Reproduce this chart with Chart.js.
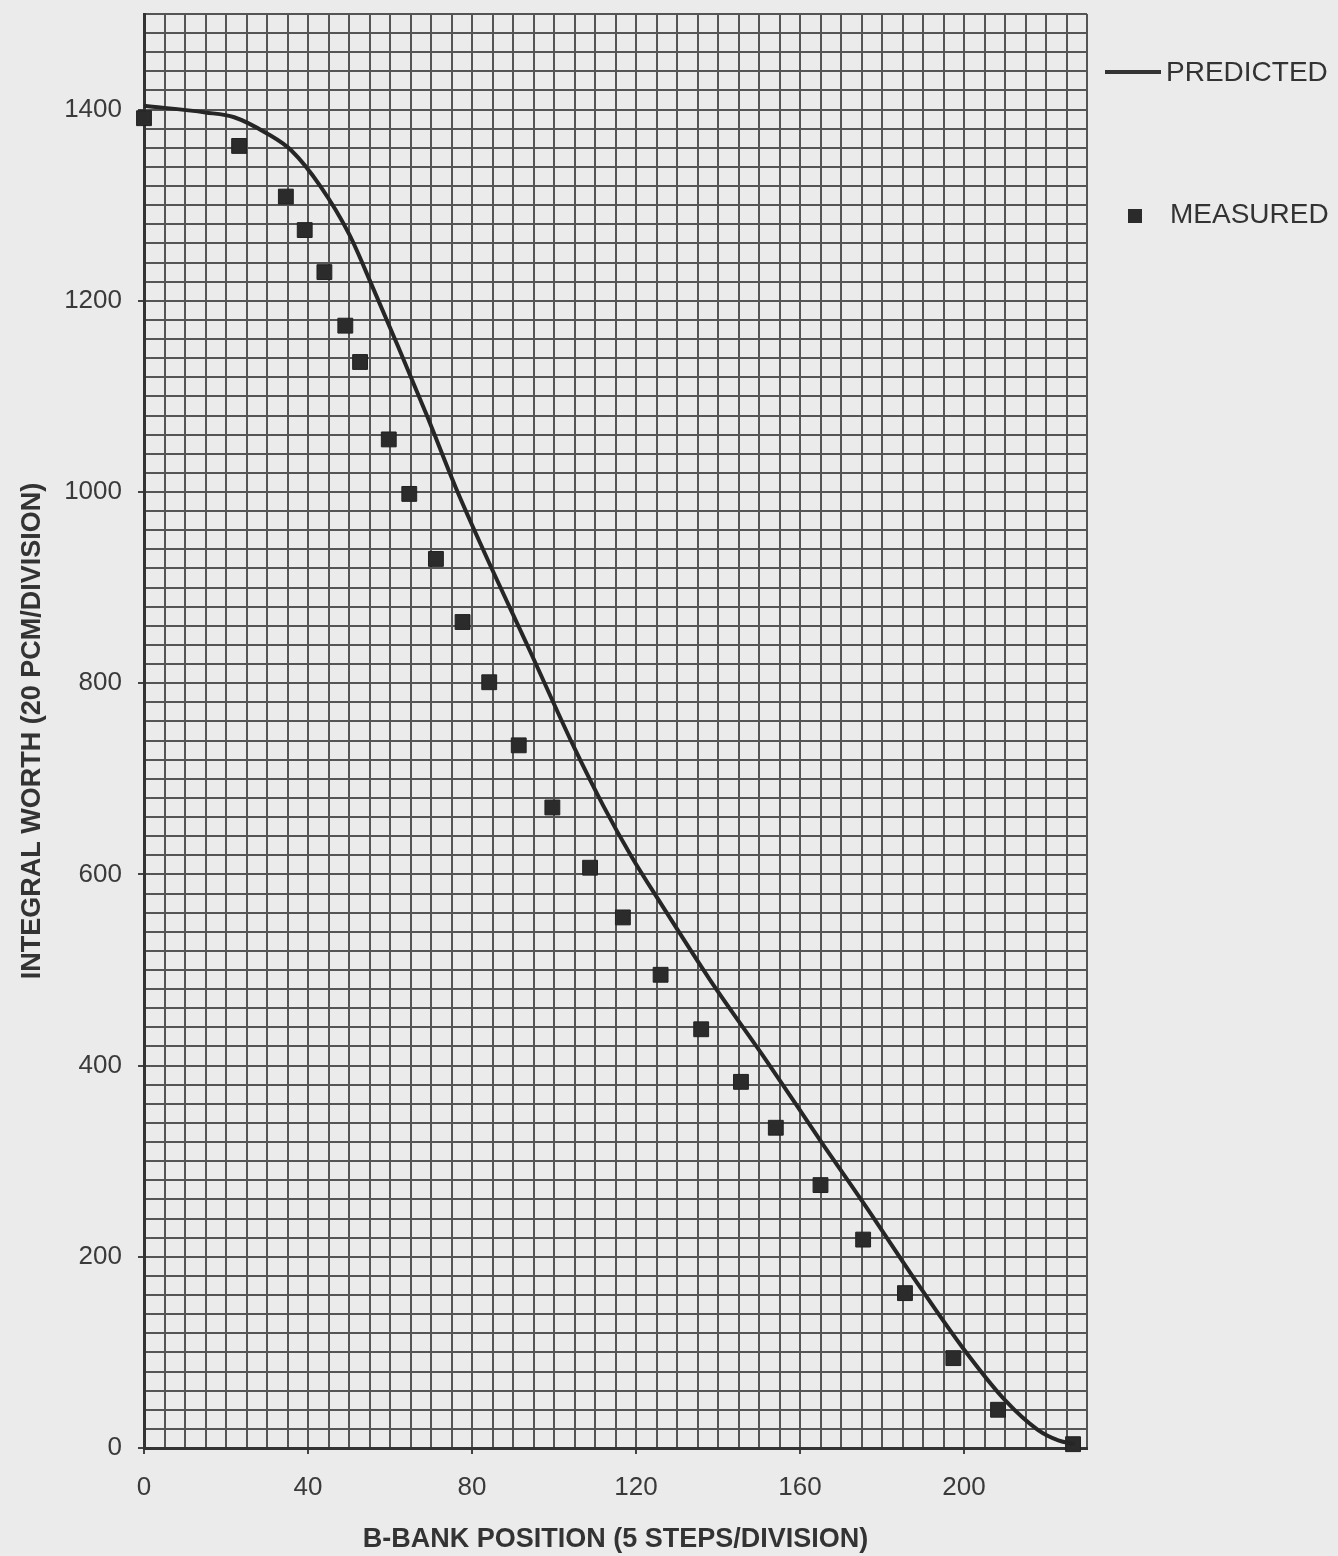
<!DOCTYPE html>
<html>
<head>
<meta charset="utf-8">
<title>Integral Worth vs B-Bank Position</title>
<script src="https://cdn.jsdelivr.net/npm/chart.js@4.4.1/dist/chart.umd.min.js"></script>
<style>
    body { margin: 0; background: #ebebeb; font-family: 'Liberation Sans', Arial, sans-serif; }
    #wrap { position: relative; width: 1338px; height: 1556px; }
    canvas { position: absolute; left: 0; top: 0; }
    .legend-line { position: absolute; left: 1105px; top: 70px; width: 56px; height: 4px; background: #333; }
    .legend-box { position: absolute; left: 1128px; top: 209px; width: 14px; height: 14px; background: #2b2b2b; }
    .legend-text { position: absolute; font-size: 28px; color: #333; line-height: 32px; }
</style>
</head>
<body>
<div id="wrap">
    <canvas id="chart" width="1338" height="1556"></canvas>
    <div class="legend-line"></div>
    <div class="legend-text" style="left:1166px; top:56px;">PREDICTED</div>
    <div class="legend-box"></div>
    <div class="legend-text" style="left:1170px; top:198px;">MEASURED</div>
</div>
<script>
    // B-bank position (steps) and integral worth (pcm)
    const predictedX = [0, 15, 22, 30, 36, 43, 50, 56, 62, 69, 76, 83, 94, 105, 112, 119, 126, 138, 152, 166, 176, 189, 200, 210, 218, 223, 227];
    const predictedY = [1404, 1397, 1392, 1375, 1357, 1320, 1270, 1212, 1152, 1080, 1005, 937, 835, 732, 672, 618, 570, 490, 404, 315, 253, 170, 103, 50, 19, 8, 4];

    const measuredX = [0, 23.2, 34.6, 39.2, 44, 49.1, 52.7, 59.7, 64.7, 71.2, 77.7, 84.2, 91.4, 99.6, 108.8, 116.8, 126, 135.9, 145.6, 154.1, 165, 175.4, 185.6, 197.4, 208.3, 226.6];
    const measuredY = [1391, 1362, 1309, 1274, 1230, 1174, 1136, 1055, 998, 930, 864, 801, 735, 670, 607, 555, 495, 438, 383, 335, 275, 218, 162, 94, 40, 4];

    const xMin = 0, xMax = 230, xStep = 5, xLabelStep = 40;
    const yMin = 0, yMax = 1500, yStep = 20, yLabelStep = 200;

    const gridColor = '#555';
    const textColor = '#3a3a3a';
    const fontFamily = "'Liberation Sans', Arial, sans-serif";

    function toPoints(xs, ys) {
        return xs.map((x, i) => ({ x, y: ys[i] }));
    }

    function majorTickColor(step) {
        return ctx => (ctx.tick && ctx.tick.value % step === 0) ? '#444' : 'rgba(0,0,0,0)';
    }

    const ctx = document.getElementById('chart').getContext('2d');
    new Chart(ctx, {
        type: 'scatter',
        data: {
            datasets: [{
                label: 'PREDICTED',
                data: toPoints(predictedX, predictedY),
                showLine: true,
                borderColor: '#262626',
                borderWidth: 4,
                pointRadius: 0,
                cubicInterpolationMode: 'monotone',
                fill: false
            }, {
                label: 'MEASURED',
                data: toPoints(measuredX, measuredY),
                showLine: false,
                pointStyle: 'rect',
                pointRadius: 10.5,
                backgroundColor: '#2b2b2b',
                borderColor: '#222',
                borderWidth: 1,
                clip: false
            }]
        },
        options: {
            responsive: false,
            animation: false,
            layout: { padding: { left: 12, right: 251, top: 14, bottom: 0 } },
            plugins: {
                legend: { display: false },
                tooltip: { enabled: false }
            },
            scales: {
                x: {
                    type: 'linear',
                    min: xMin,
                    max: xMax,
                    afterFit: scale => {
                        scale.height = 108;
                        scale.paddingLeft = 0;
                        scale.paddingRight = 0;
                    },
                    border: { color: '#333', width: 3 },
                    grid: {
                        color: gridColor,
                        lineWidth: 2,
                        drawTicks: true,
                        tickLength: 6,
                        tickColor: majorTickColor(xLabelStep)
                    },
                    ticks: {
                        stepSize: xStep,
                        autoSkip: false,
                        maxRotation: 0,
                        padding: 18,
                        color: textColor,
                        font: { family: fontFamily, size: 26 },
                        callback: v => v % xLabelStep === 0 ? String(v) : ''
                    },
                    title: {
                        display: true,
                        text: 'B-BANK POSITION (5 STEPS/DIVISION)',
                        color: '#333',
                        font: { family: fontFamily, size: 27, weight: 'bold' },
                        padding: { top: 0, bottom: 0 }
                    }
                },
                y: {
                    type: 'linear',
                    min: yMin,
                    max: yMax,
                    afterFit: scale => {
                        scale.width = 132;
                        scale.paddingTop = 0;
                        scale.paddingBottom = 0;
                    },
                    border: { color: '#333', width: 3 },
                    grid: {
                        color: gridColor,
                        lineWidth: 2,
                        drawTicks: true,
                        tickLength: 6,
                        tickColor: majorTickColor(yLabelStep)
                    },
                    ticks: {
                        stepSize: yStep,
                        autoSkip: false,
                        padding: 16,
                        color: textColor,
                        font: { family: fontFamily, size: 26 },
                        callback: v => v % yLabelStep === 0 ? String(v) : ''
                    },
                    title: {
                        display: true,
                        text: 'INTEGRAL WORTH (20 PCM/DIVISION)',
                        color: '#333',
                        font: { family: fontFamily, size: 27, weight: 'bold' },
                        padding: { top: 4, bottom: 0 }
                    }
                }
            }
        }
    });
</script>
</body>
</html>
